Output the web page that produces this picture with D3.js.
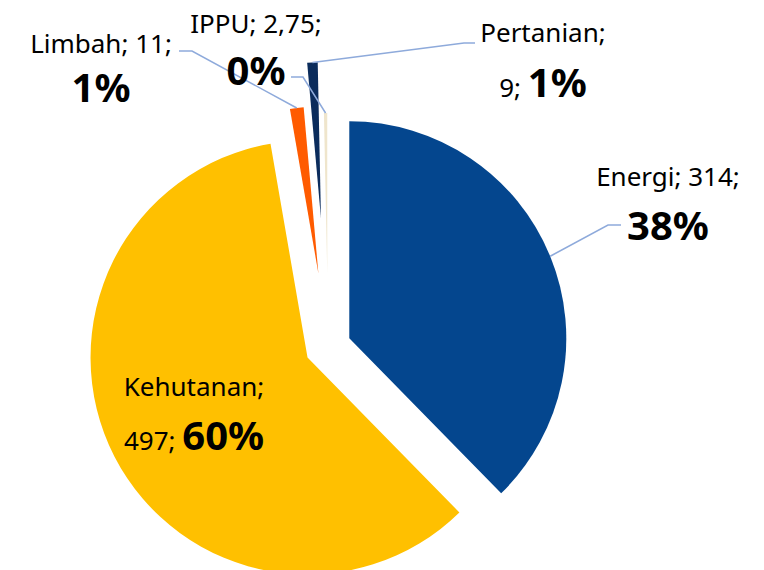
<!DOCTYPE html>
<html>
<head>
<meta charset="utf-8">
<script src="https://cdn.jsdelivr.net/npm/d3@7"></script>
<style>
    body { margin: 0; background: #fff; }
    svg text { font-family: "Noto Sans", "Open Sans", sans-serif; fill: #000; }
</style>
</head>
<body>
<svg id="chart" width="764" height="570"></svg>
<script>
var categories = ["Energi", "Kehutanan", "Limbah", "Pertanian", "IPPU"];
var values = [314, 497, 11, 9, 2.75];

// styling per slice (same order as categories)
var colors = ["#04468e", "#ffc000", "#ff5b00", "#0b2c5c", "#efe5cc"];
var explode = [23, 23, 74, 129, 74];
var radius = [217, 217, 167, 156, 160];

// label layout: centre x, first baseline, second baseline, value on first line?, leader elbow, leader end
var labelLayout = [
    { x: 668, y1: 186, y2: 240, valueFirst: true, elbow: [608, 225], end: [621, 225] },
    { x: 194, y1: 396, y2: 450, valueFirst: false, elbow: null, end: null },
    { x: 101, y1: 53, y2: 102, valueFirst: true, elbow: [192, 51], end: [179, 51] },
    { x: 543, y1: 42, y2: 97, valueFirst: false, elbow: [464, 43], end: [475, 43] },
    { x: 256, y1: 33, y2: 85, valueFirst: true, elbow: [303, 77], end: [291, 77] }
];

var svg = d3.select("#chart");
var cx = 328, cy = 347;

var total = d3.sum(values);
var data = categories.map(function (c, i) {
    return { name: c, value: values[i], i: i };
});

var pie = d3.pie()
    .sort(null)
    .value(function (d) { return d.value; });

var arcs = pie(data);

function midAngle(d) {
    return (d.startAngle + d.endAngle) / 2;
}

function offset(d) {
    var a = midAngle(d), k = explode[d.data.i];
    return [Math.sin(a) * k, -Math.cos(a) * k];
}

var g = svg.append("g").attr("transform", "translate(" + cx + "," + cy + ")");

g.selectAll("path.slice")
    .data(arcs)
    .enter().append("path")
    .attr("class", "slice")
    .attr("fill", function (d) { return colors[d.data.i]; })
    .attr("transform", function (d) {
        var o = offset(d);
        return "translate(" + o[0] + "," + o[1] + ")";
    })
    .attr("d", function (d) {
        return d3.arc().innerRadius(0).outerRadius(radius[d.data.i])(d);
    });

// leader lines from slice edge to label
var leaders = arcs.filter(function (d) { return labelLayout[d.data.i].elbow; });

svg.selectAll("polyline.leader")
    .data(leaders)
    .enter().append("polyline")
    .attr("class", "leader")
    .attr("fill", "none")
    .attr("stroke", "#8eaadb")
    .attr("stroke-width", 1.5)
    .attr("points", function (d) {
        var o = offset(d), a = midAngle(d), r = radius[d.data.i];
        var sx = cx + o[0] + Math.sin(a) * r;
        var sy = cy + o[1] - Math.cos(a) * r;
        var L = labelLayout[d.data.i];
        return [[sx, sy], L.elbow, L.end].map(function (p) { return p.join(","); }).join(" ");
    });

function fmt(v) {
    return String(v).replace(".", ",");
}

var label = svg.selectAll("g.label")
    .data(arcs)
    .enter().append("g")
    .attr("class", "label")
    .attr("text-anchor", "middle");

label.append("text")
    .attr("x", function (d) { return labelLayout[d.data.i].x; })
    .attr("y", function (d) { return labelLayout[d.data.i].y1; })
    .attr("font-size", 26)
    .text(function (d) {
        var L = labelLayout[d.data.i];
        return d.data.name + ";" + (L.valueFirst ? " " + fmt(d.data.value) + ";" : "");
    });

var second = label.append("text")
    .attr("x", function (d) { return labelLayout[d.data.i].x; })
    .attr("y", function (d) { return labelLayout[d.data.i].y2; });

second.filter(function (d) { return !labelLayout[d.data.i].valueFirst; })
    .append("tspan")
    .attr("font-size", 26)
    .text(function (d) { return fmt(d.data.value) + "; "; });

second.append("tspan")
    .attr("font-size", 40)
    .attr("font-weight", "bold")
    .text(function (d) { return Math.round(d.data.value / total * 100) + "%"; });
</script>
</body>
</html>
